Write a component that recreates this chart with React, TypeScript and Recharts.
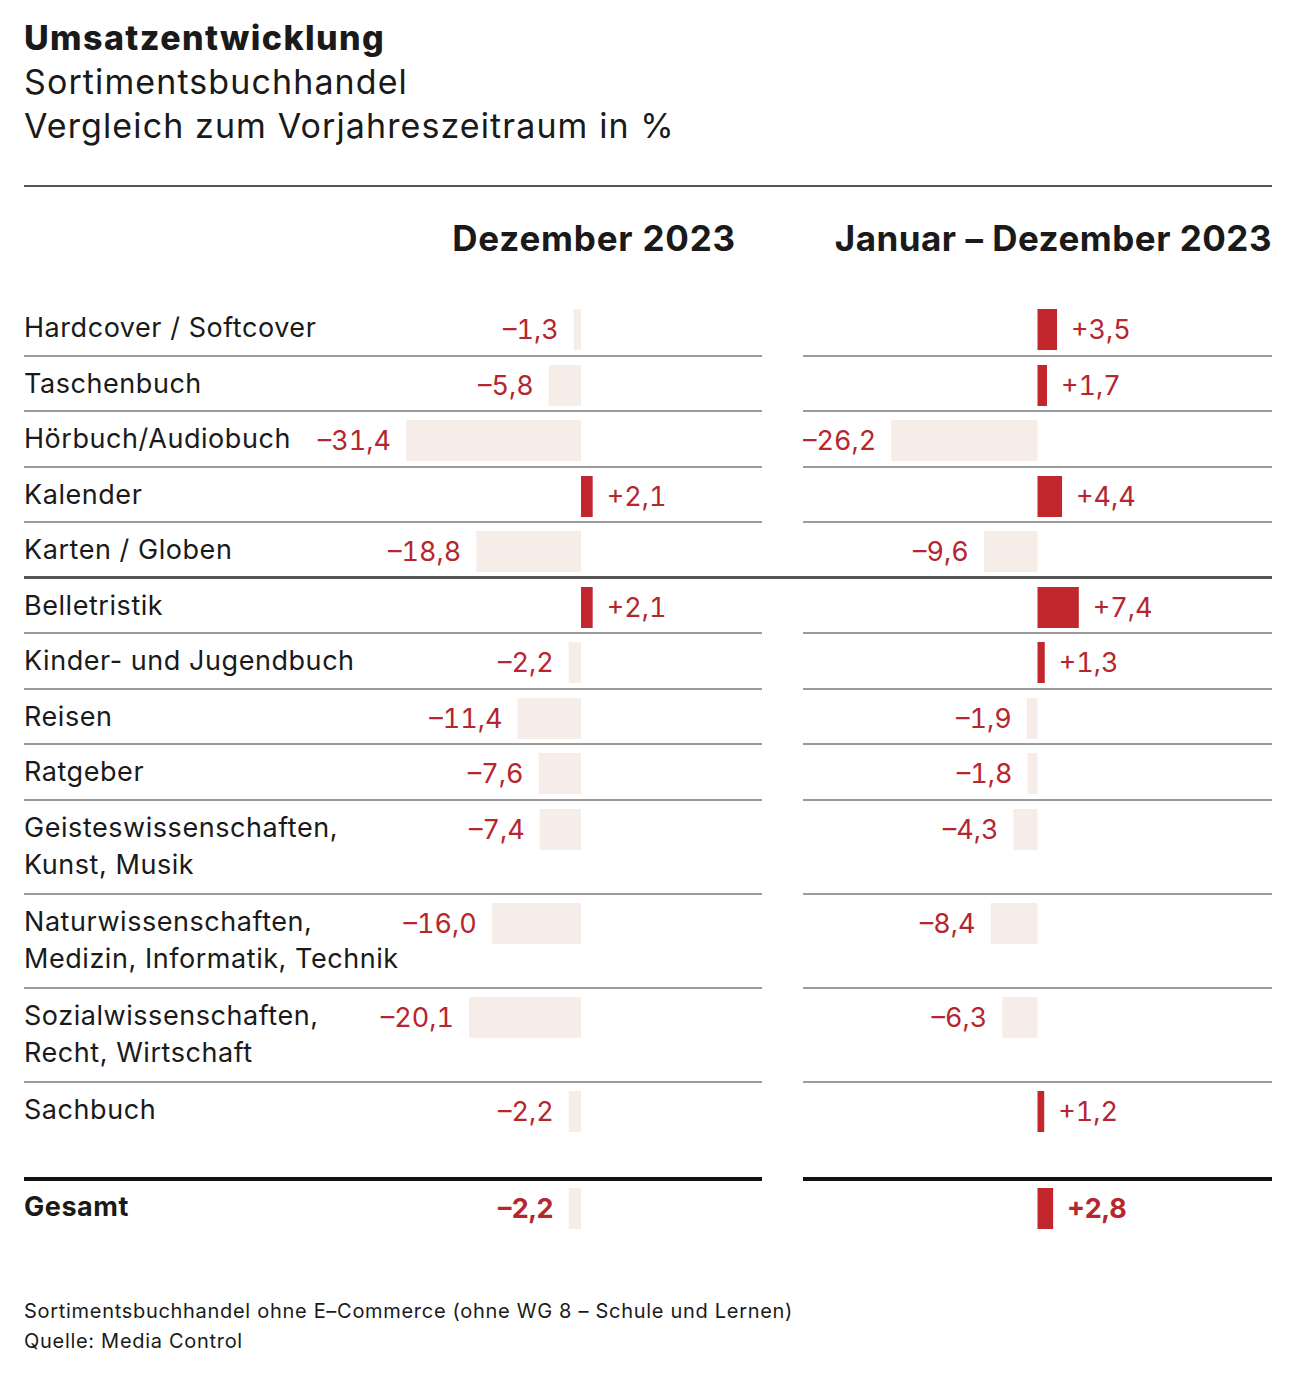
import React from 'react';
import { Bar, BarChart, Cell, LabelList, XAxis, YAxis } from 'recharts';

const categories = [
  'Hardcover / Softcover',
  'Taschenbuch',
  'Hörbuch/Audiobuch',
  'Kalender',
  'Karten / Globen',
  'Belletristik',
  'Kinder- und Jugendbuch',
  'Reisen',
  'Ratgeber',
  'Geisteswissenschaften,\nKunst, Musik',
  'Naturwissenschaften,\nMedizin, Informatik, Technik',
  'Sozialwissenschaften,\nRecht, Wirtschaft',
  'Sachbuch',
];
const december2023 = [-1.3, -5.8, -31.4, 2.1, -18.8, 2.1, -2.2, -11.4, -7.6, -7.4, -16.0, -20.1, -2.2];
const fullYear2023 = [3.5, 1.7, -26.2, 4.4, -9.6, 7.4, 1.3, -1.9, -1.8, -4.3, -8.4, -6.3, 1.2];
const totalLabel = 'Gesamt';
const totalDecember = -2.2;
const totalFullYear = 2.8;
const columnTitles = ['Dezember 2023', 'Januar – Dezember 2023'];

const FONT = 'Inter, "Noto Sans", sans-serif';
const POS = '#C1272D';
const NEG = '#F6EDE9';
const VALUE_TEXT = '#B5262E';
const INK = '#1a1a1a';

const LEFT_X = 24;
const LEFT_W = 738;
const RIGHT_X = 803;
const RIGHT_W = 469;
const LEFT_DOMAIN: [number, number] = [-100, 32.5];
const RIGHT_DOMAIN: [number, number] = [-42, 42];
const BAR_H = 41;
const BAND_PAD = 4;

const fmt = (v: number) => (v > 0 ? '+' : '–') + Math.abs(v).toFixed(1).replace('.', ',');

function ValueLabel(props: any) {
  const { x, y, width, height, value, bold } = props;
  const a = Number(x);
  const b = Number(x) + Number(width);
  const left = Math.min(a, b);
  const right = Math.max(a, b);
  const v = Number(value);
  const cy = Number(y) + Number(height) / 2;
  return (
    <text
      x={v >= 0 ? right + 14 : left - 15}
      y={cy}
      dy="0.36em"
      textAnchor={v >= 0 ? 'start' : 'end'}
      fill={VALUE_TEXT}
      fontFamily={FONT}
      fontSize={27}
      fontWeight={bold ? 700 : 400}
      style={{ fontVariantNumeric: 'tabular-nums' }}
    >
      {fmt(v)}
    </text>
  );
}

function RowBar({
  value,
  width,
  height,
  domain,
  top,
  bold,
}: {
  value: number;
  width: number;
  height: number;
  domain: [number, number];
  top: number;
  bold?: boolean;
}) {
  const data = [{ name: 'row', value }];
  return (
    <BarChart
      width={width}
      height={height}
      data={data}
      layout="vertical"
      margin={{ top: top - BAND_PAD, right: 0, bottom: height - top - BAR_H - BAND_PAD, left: 0 }}
      barCategoryGap={0}
    >
      <XAxis type="number" domain={domain} hide allowDataOverflow />
      <YAxis type="category" dataKey="name" hide />
      <Bar dataKey="value" barSize={BAR_H} isAnimationActive={false}>
        {data.map((d, i) => (
          <Cell key={i} fill={d.value >= 0 ? POS : NEG} />
        ))}
        <LabelList dataKey="value" content={(p: any) => <ValueLabel {...p} bold={bold} />} />
      </Bar>
    </BarChart>
  );
}

function Row({
  label,
  dec,
  year,
  height,
  divider,
  bold,
}: {
  label: string;
  dec: number;
  year: number;
  height: number;
  divider: 'thin' | 'full' | 'thick' | 'none';
  bold?: boolean;
}) {
  const top = 9;
  const lines = label.split('\n');
  return (
    <div style={{ position: 'relative', height }}>
      <div
        style={{
          position: 'absolute',
          left: LEFT_X,
          top: 9,
          fontSize: 27,
          letterSpacing: 0.55,
          lineHeight: '37px',
          color: INK,
          fontWeight: bold ? 700 : 400,
          whiteSpace: 'nowrap',
        }}
      >
        {lines.map((l, i) => (
          <div key={i}>{l}</div>
        ))}
      </div>
      <div style={{ position: 'absolute', left: LEFT_X, top: 0 }}>
        <RowBar value={dec} width={LEFT_W} height={height} domain={LEFT_DOMAIN} top={top} bold={bold} />
      </div>
      <div style={{ position: 'absolute', left: RIGHT_X, top: 0 }}>
        <RowBar value={year} width={RIGHT_W} height={height} domain={RIGHT_DOMAIN} top={top} bold={bold} />
      </div>
      {divider === 'thin' && (
        <>
          <div style={{ position: 'absolute', left: LEFT_X, width: LEFT_W, bottom: -1, height: 2, background: '#9b9b9b' }} />
          <div style={{ position: 'absolute', left: RIGHT_X, width: RIGHT_W, bottom: -1, height: 2, background: '#9b9b9b' }} />
        </>
      )}
      {divider === 'full' && (
        <div style={{ position: 'absolute', left: LEFT_X, width: RIGHT_X + RIGHT_W - LEFT_X, bottom: -1, height: 3, background: '#555' }} />
      )}
      {divider === 'thick' && (
        <>
          <div style={{ position: 'absolute', left: LEFT_X, width: LEFT_W, bottom: -2, height: 4, background: '#111' }} />
          <div style={{ position: 'absolute', left: RIGHT_X, width: RIGHT_W, bottom: -2, height: 4, background: '#111' }} />
        </>
      )}
    </div>
  );
}

export default function App() {
  const rowHeight = (i: number) => {
    if (i === categories.length - 1) return 97;
    return categories[i].includes('\n') ? 94 : 55.5;
  };
  const headerStyle: React.CSSProperties = {
    position: 'absolute',
    top: 216,
    fontSize: 35,
    fontWeight: 700,
    lineHeight: '44px',
    whiteSpace: 'nowrap',
  };
  return (
    <div
      style={{
        position: 'absolute',
        left: 0,
        top: 0,
        width: 1292,
        height: 1378,
        background: '#fff',
        fontFamily: FONT,
        color: INK,
        overflow: 'hidden',
      }}
    >
      <div style={{ position: 'absolute', left: 24, top: 16, fontSize: 34, lineHeight: '44px', letterSpacing: 1.1 }}>
        <div style={{ fontWeight: 800, letterSpacing: 1.4 }}>Umsatzentwicklung</div>
        <div>Sortimentsbuchhandel</div>
        <div>Vergleich zum Vorjahreszeitraum in %</div>
      </div>
      <div style={{ position: 'absolute', left: 24, top: 185, width: 1248, height: 2, background: '#555' }} />
      <div style={{ ...headerStyle, right: 1292 - 736, letterSpacing: 0.8 }}>{columnTitles[0]}</div>
      <div style={{ ...headerStyle, right: 1292 - 1272, letterSpacing: 0.5 }}>{columnTitles[1]}</div>

      <div style={{ position: 'absolute', left: 0, top: 300, width: 1292 }}>
        {categories.map((c, i) => (
          <Row
            key={c}
            label={c}
            dec={december2023[i]}
            year={fullYear2023[i]}
            height={rowHeight(i)}
            divider={i === 4 ? 'full' : i === categories.length - 1 ? 'thick' : 'thin'}
          />
        ))}
        <Row label={totalLabel} dec={totalDecember} year={totalFullYear} height={62} divider="none" bold />
      </div>

      <div style={{ position: 'absolute', left: 24, top: 1296, fontSize: 20, lineHeight: '30px', letterSpacing: 0.7 }}>
        <div>Sortimentsbuchhandel ohne E–Commerce (ohne WG 8 – Schule und Lernen)</div>
        <div>Quelle: Media Control</div>
      </div>
    </div>
  );
}
